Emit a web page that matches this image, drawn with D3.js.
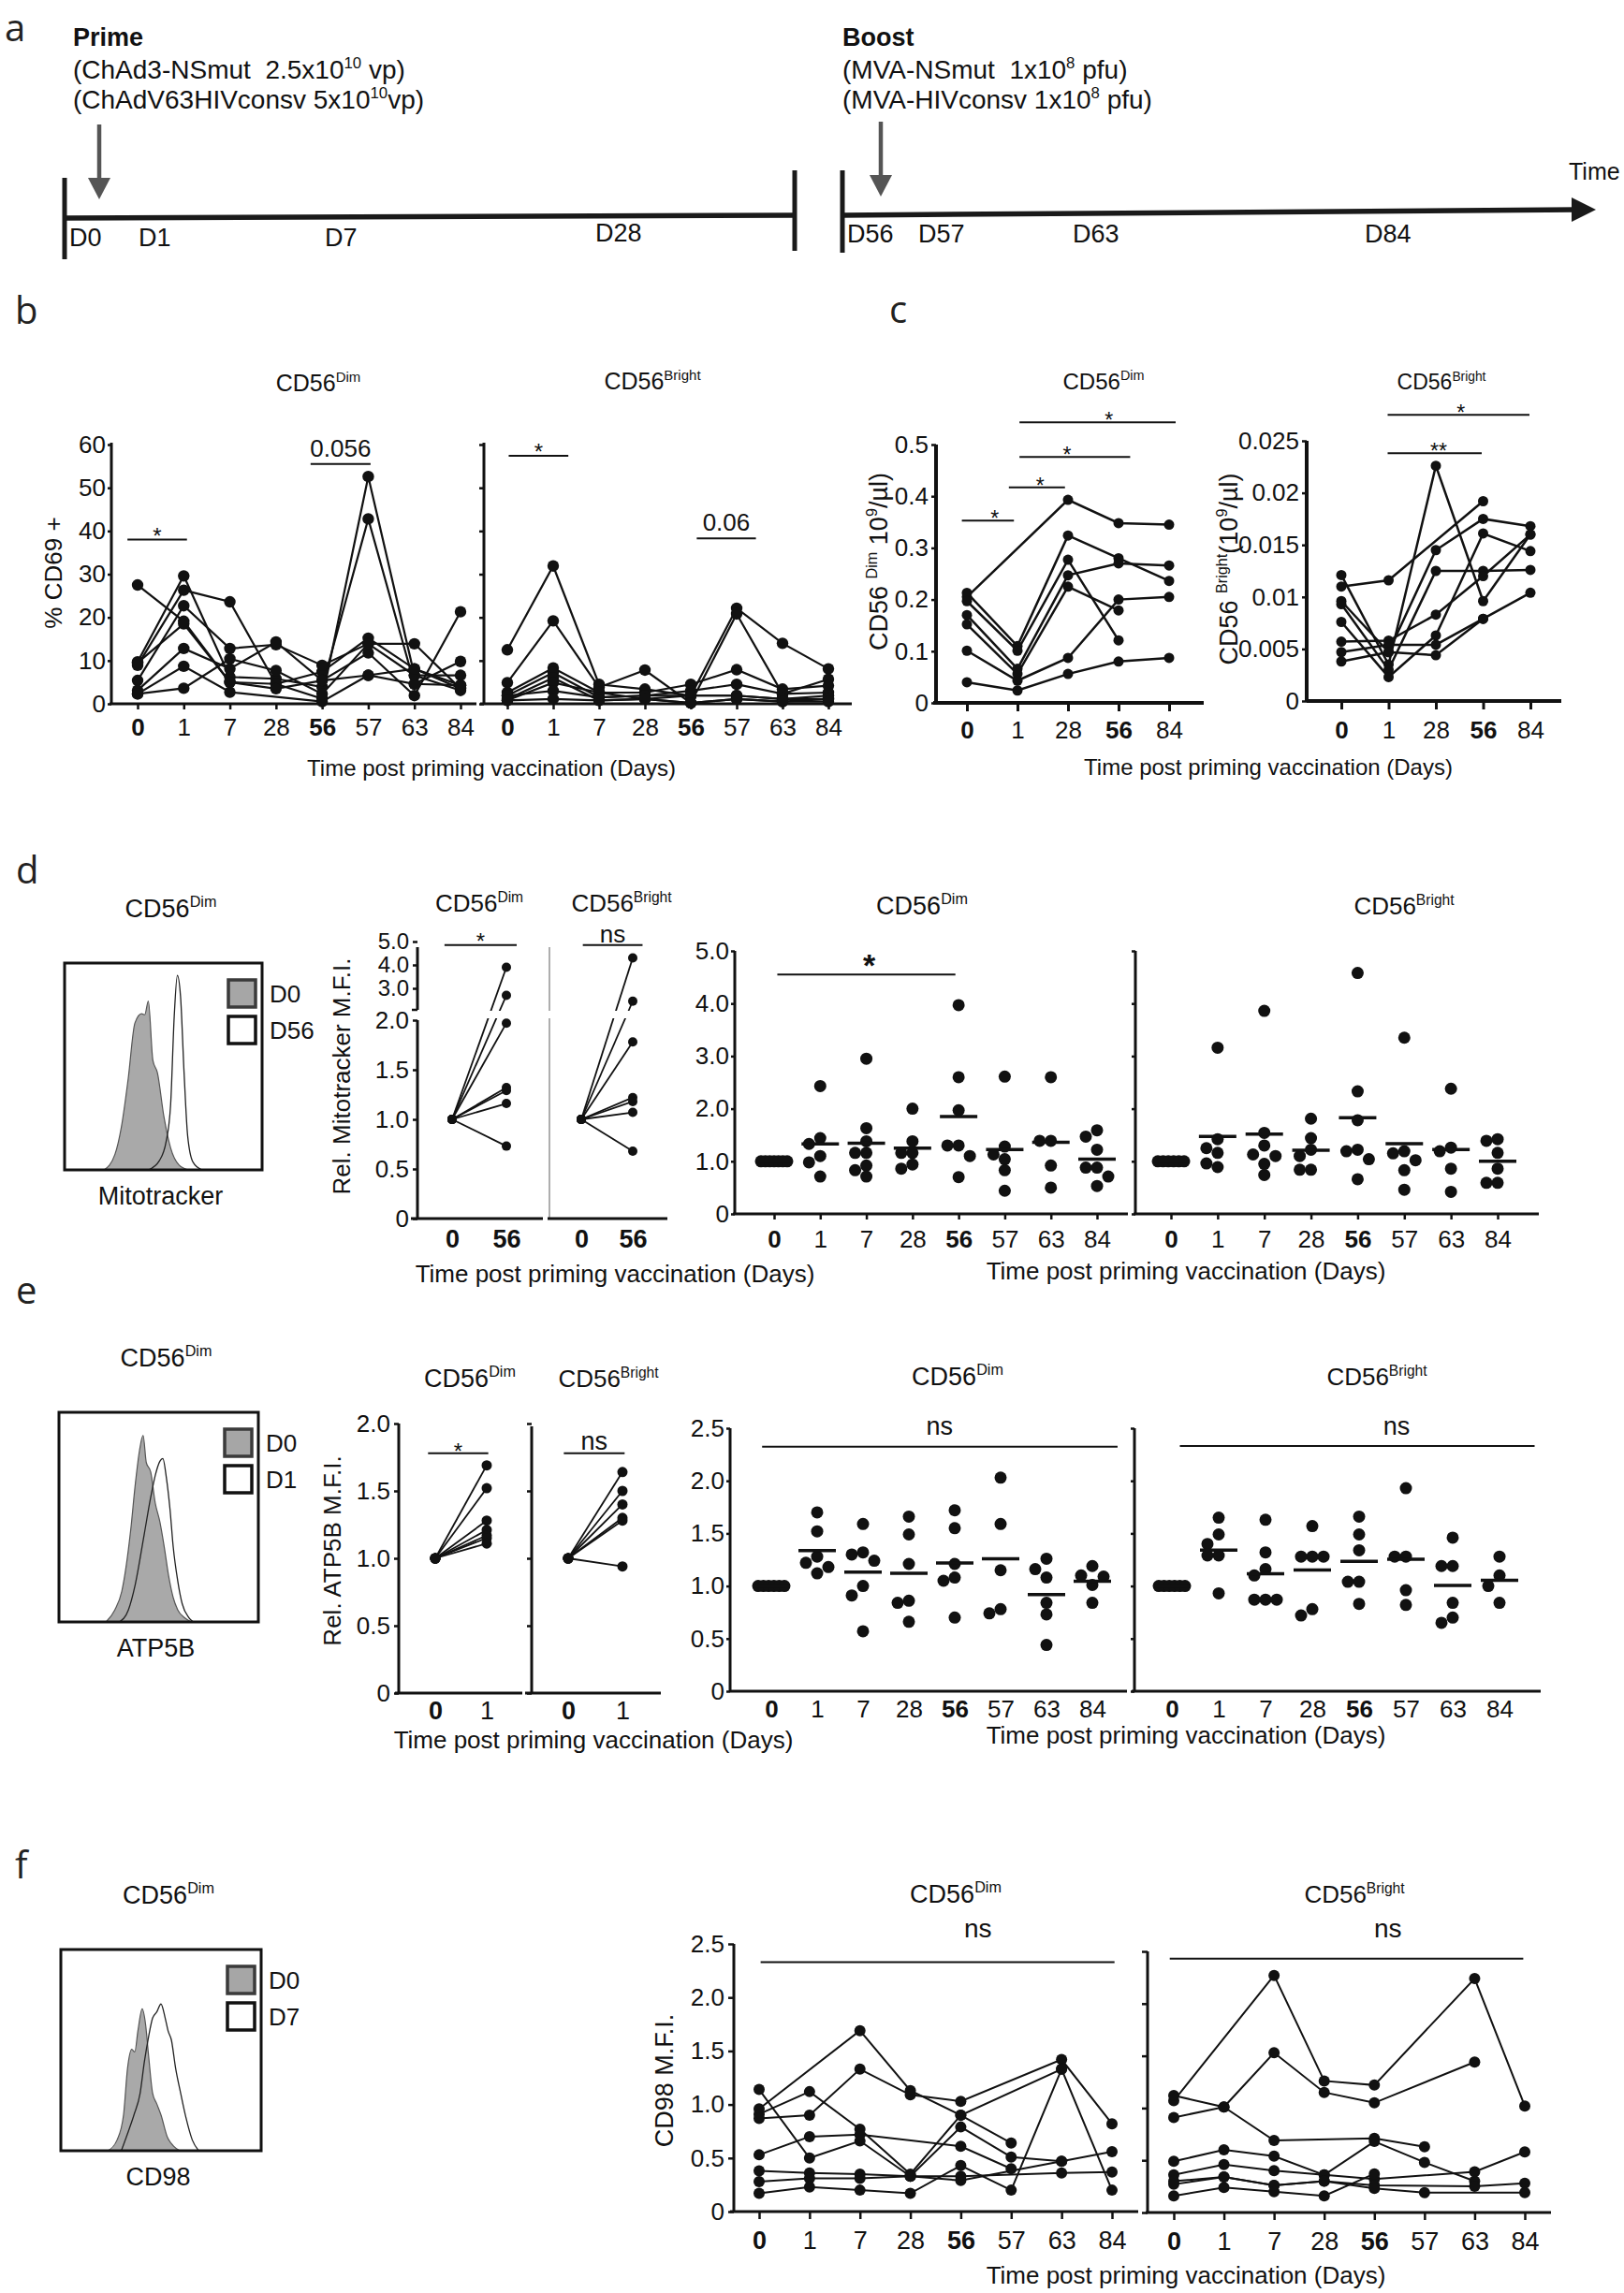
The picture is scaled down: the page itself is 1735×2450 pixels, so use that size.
<!DOCTYPE html>
<html>
<head>
<meta charset="utf-8">
<title>NK cell activation and metabolism after vaccination</title>
<script src="https://cdn.jsdelivr.net/npm/d3@7"></script>
<style>
  body { margin: 0; background: #fff; }
  svg { display: block; }
  text { white-space: pre; }
</style>
</head>
<body>
<svg id="figure" width="1735" height="2450"></svg>
<script>
// ---------- categories ----------
const timeDays = ["0", "1", "7", "28", "56", "57", "63", "84"];
const countDays = ["0", "1", "28", "56", "84"];
const mitoPairDays = ["0", "56"];
const atpPairDays = ["0", "1"];
const boldDays = ["0", "56"];

// ---------- a: schedule ----------
const primeDays = [0, 1, 7, 28];
const boostDays = [56, 57, 63, 84];

// ---------- b: % CD69+ (rows = donors, cols = timeDays) ----------
const cd69Dim = [
  [27.5, 19.1, 5.0, 4.6, 1.2, 52.6, 6.6, 3.1],
  [9.7, 29.6, 6.2, 5.8, 3.9, 42.8, 4.6, 4.3],
  [8.9, 26.3, 23.6, 4.6, 7.4, 15.2, 8.1, 3.5],
  [5.4, 22.7, 12.8, 13.7, 8.9, 13.9, 13.9, 3.5],
  [3.1, 12.8, 8.1, 14.3, 5.4, 11.8, 1.9, 21.3],
  [2.3, 8.7, 2.7, null, 0.5, 6.6, 4.6, 9.8],
  [2.3, 3.6, 10.4, 7.7, 2.3, 13.9, 6.6, 6.6],
  [9.5, 18.5, 5.0, 3.5, 5.4, 6.6, 8.1, 4.3]
];
const cd69Bright = [
  [12.5, 31.9, 4.5, 3.4, 1.9, 22.1, 14.0, 8.1],
  [4.9, 19.2, 3.8, 7.8, 0.2, 20.8, 2.3, 5.7],
  [2.6, 8.3, 2.6, 2.6, 4.5, 7.9, 3.4, 4.2],
  [1.9, 7.2, 1.5, 1.9, 3.0, 4.5, 2.3, 2.6],
  [1.1, 6.0, 0.8, 1.1, 1.9, 1.9, 1.1, 1.9],
  [0.8, 4.9, 2.6, 1.1, 0.2, 1.1, 0.5, 1.1],
  [1.9, 3.0, 1.5, 1.9, 1.9, 1.9, 1.1, 1.1],
  [0.8, 1.1, 0.8, 1.1, 0.2, 1.1, 0.5, 0.5]
];

// ---------- c: counts, 10^9/ul (cols = countDays) ----------
const countDim = [
  [0.205, null, 0.393, 0.348, 0.345],
  [0.213, 0.110, 0.324, 0.280, 0.236],
  [0.197, 0.101, 0.277, 0.121, null],
  [0.170, 0.066, 0.247, 0.270, 0.266],
  [0.152, 0.056, 0.225, 0.179, null],
  [0.101, 0.043, 0.087, 0.200, 0.205],
  [0.040, 0.024, 0.056, 0.080, 0.087]
];
const countBright = [
  [0.0110, 0.0116, null, 0.0192, null],
  [0.0121, 0.0035, 0.0226, 0.0096, 0.0160],
  [0.0096, 0.0047, 0.0145, 0.0175, 0.0168],
  [0.0093, 0.0030, 0.0125, 0.0125, 0.0126],
  [0.0076, 0.0023, 0.0063, 0.0161, 0.0144],
  [0.0057, 0.0058, 0.0083, 0.0120, 0.0160],
  [0.0047, 0.0054, 0.0054, 0.0079, 0.0104],
  [0.0038, 0.0047, 0.0044, 0.0079, null]
];

// ---------- d: Mitotracker ----------
const mitoPairDimD0 = [1, 1, 1, 1, 1, 1, 1];
const mitoPairDimD56 = [3.9, 2.7, 1.97, 1.32, 1.29, 1.16, 0.73];
const mitoPairBrightD0 = [1, 1, 1, 1, 1, 1, 1];
const mitoPairBrightD56 = [4.3, 2.45, 1.78, 1.22, 1.18, 1.07, 0.68];
const mitoDim = [
  [1, 1, 1, 1, 1, 1, 1],
  [2.43, 1.44, 1.33, 1.10, 0.98, 0.71],
  [2.95, 1.63, 1.38, 1.16, 1.16, 0.92, 0.83, 0.71],
  [2.0, 1.38, 1.16, 1.16, 0.94, 0.86],
  [3.97, 2.6, 1.97, 1.30, 1.30, 1.10, 0.70],
  [2.61, 1.28, 1.13, 1.04, 0.83, 0.44],
  [2.6, 1.39, 1.39, 0.92, 0.50],
  [1.59, 1.47, 1.22, 0.88, 0.88, 0.71, 0.53]
];
const mitoBright = [
  [1, 1, 1, 1, 1, 1],
  [3.16, 1.42, 1.25, 1.16, 0.96, 0.89],
  [3.86, 1.54, 1.30, 1.13, 1.10, 0.95, 0.74],
  [1.81, 1.44, 1.22, 1.10, 0.84, 0.84],
  [4.58, 2.33, 1.78, 1.22, 1.19, 1.04, 0.66],
  [3.35, 1.19, 1.15, 1.02, 0.83, 0.46],
  [2.38, 1.26, 1.19, 0.86, 0.42],
  [1.42, 1.39, 1.16, 0.86, 0.59, 0.59]
];
// histogram outlines: [intensity %, count % of box]
const mitoHistD0 = [[20, 0], [25.5, 7.5], [28.8, 21], [32.2, 44], [35.6, 71], [39, 75.5], [40.6, 75], [42.4, 81.6], [44.7, 53], [47, 47], [50.3, 25.7], [53.7, 10.6], [58, 2.3], [62.7, 0]];
const mitoHistD56 = [[42.4, 0], [48, 4.5], [51.4, 13.6], [53.7, 31.7], [55.5, 74], [57.1, 94], [58.7, 84], [60.5, 47], [62.3, 16.6], [65, 3.8], [69.5, 0]];

// ---------- e: ATP5B ----------
const atpPairDimD0 = [1, 1, 1, 1, 1, 1, 1];
const atpPairDimD1 = [1.69, 1.52, 1.28, 1.21, 1.17, 1.15, 1.11];
const atpPairBrightD0 = [1, 1, 1, 1, 1, 1];
const atpPairBrightD1 = [1.64, 1.50, 1.40, 1.30, 1.28, 0.94];
const atpDim = [
  [1, 1, 1, 1, 1, 1],
  [1.70, 1.52, 1.28, 1.22, 1.18, 1.12],
  [1.59, 1.32, 1.30, 1.24, 1.0, 0.91, 0.57],
  [1.66, 1.49, 1.21, 0.86, 0.84, 0.66],
  [1.72, 1.55, 1.21, 1.08, 1.05, 0.70],
  [2.03, 1.59, 1.15, 0.78, 0.74],
  [1.26, 1.16, 1.08, 0.84, 0.73, 0.44],
  [1.19, 1.10, 1.09, 1.01, 0.84]
];
const atpBright = [
  [1, 1, 1, 1, 1, 1],
  [1.65, 1.49, 1.40, 1.29, 1.29, 0.93],
  [1.63, 1.32, 1.16, 1.10, 0.87, 0.87, 0.87],
  [1.57, 1.28, 1.28, 1.28, 0.78, 0.72],
  [1.66, 1.49, 1.34, 1.04, 1.04, 0.83],
  [1.93, 1.28, 1.28, 0.96, 0.82],
  [1.46, 1.19, 1.19, 0.84, 0.70, 0.65],
  [1.28, 1.10, 1.0, 0.84]
];
const atpHistD0 = [[23.6, 0], [28, 5.7], [31.5, 14.6], [36, 44], [38.2, 65], [40.4, 81.8], [42.2, 89], [43.8, 76], [46, 71.6], [48.3, 56.7], [50.6, 47.8], [52.8, 35.8], [55, 22], [57.3, 11.6], [59.6, 5.7], [63, 2], [66.3, 0]];
const atpHistD1 = [[30.3, 0], [34.8, 5.7], [38.2, 17.6], [42.7, 41.5], [46, 59.4], [48.3, 69.9], [50.6, 76.6], [52.1, 78], [53.9, 68.6], [55.7, 53.7], [57.3, 35.8], [59.6, 19.4], [61.8, 8.7], [65.2, 2], [67.4, 0]];

// ---------- f: CD98 (cols = timeDays) ----------
const cd98Dim = [
  [1.14, 0.50, 0.66, 0.33, 0.79, 0.51, 0.47, 0.56],
  [0.96, null, 1.69, 1.13, 0.90, 0.64, null, null],
  [0.91, 1.12, 0.77, 0.35, 0.90, null, 1.33, 0.20],
  [0.87, 0.90, 1.33, 1.09, 1.03, null, 1.42, 0.82],
  [0.53, 0.70, 0.72, null, 0.61, 0.40, null, null],
  [0.38, 0.36, 0.35, 0.33, 0.33, null, 0.36, 0.37],
  [0.28, 0.31, 0.31, 0.33, 0.29, null, 0.47, null],
  [0.17, 0.23, 0.20, 0.17, 0.43, 0.20, 1.33, null]
];
const cd98Bright = [
  [1.07, null, 2.27, 1.26, 1.22, null, 2.24, 1.02],
  [1.12, 1.01, 1.53, 1.15, 1.05, null, 1.44, null],
  [0.91, 1.01, 0.69, null, 0.71, 0.63, null, null],
  [0.49, 0.60, 0.54, 0.36, 0.68, 0.48, 0.30, null],
  [0.36, 0.46, 0.40, 0.36, 0.32, null, 0.39, 0.58],
  [0.30, 0.34, 0.26, 0.30, 0.26, null, 0.25, 0.28],
  [0.27, 0.34, 0.26, 0.30, 0.23, 0.19, null, 0.19],
  [0.16, 0.24, 0.20, 0.16, 0.37, null, null, null]
];
const cd98HistD0 = [[23.5, 0], [28.1, 5.4], [31.3, 17.8], [33.3, 41], [35.4, 50.4], [36.9, 49.1], [38.5, 59.7], [40.6, 70.5], [42.3, 62.8], [43.8, 47.3], [45.8, 28.7], [47.9, 23.3], [50, 17.8], [53.1, 7], [56.3, 2.3], [59.4, 0]];
const cd98HistD7 = [[30.2, 0], [33.3, 8.5], [36.5, 17.8], [39.6, 28.7], [41.7, 44.2], [43.8, 56.6], [45.8, 65.9], [47.9, 69], [50, 72.9], [52.1, 65.9], [53.5, 59.7], [55.2, 55], [57.3, 41], [59.8, 28.7], [62.5, 16.3], [65.6, 5.4], [68.8, 0]];

// ---------- significance annotations (category index / data units) ----------
const bSigDim = [{ from: -0.22, to: 1.07, at: 38, label: "*" }, { from: 3.75, to: 5.05, at: 55.5, label: "0.056" }];
const bSigBright = [{ from: 0.03, to: 1.33, at: 57.4, label: "*" }, { from: 4.13, to: 5.42, at: 38.3, label: "0.06" }];
const cSigDim = [
  { from: -0.1, to: 0.93, at: 0.353, label: "*", labelAt: 0.55 },
  { from: 0.83, to: 1.94, at: 0.417, label: "*", labelAt: 1.45 },
  { from: 1.04, to: 3.23, at: 0.476, label: "*", labelAt: 1.98 },
  { from: 1.04, to: 4.13, at: 0.543, label: "*", labelAt: 2.81 }
];
const cSigBright = [{ from: 0.98, to: 2.97, at: 0.0238, label: "**", labelAt: 2.06 }, { from: 0.98, to: 3.98, at: 0.0275, label: "*", labelAt: 2.53 }];
const mitoPairSigDim = [{ from: -0.14, to: 1.19, at: 4.85, label: "*" }];
const mitoPairSigBright = [{ from: 0.03, to: 1.19, at: 4.85, label: "ns" }];
const mitoSigDim = [{ from: 0.07, to: 3.93, at: 4.55, label: "*", labelAt: 2.06 }];
const atpPairSigDim = [{ from: -0.14, to: 1.03, at: 1.78, label: "*" }];
const atpPairSigBright = [{ from: -0.08, to: 1.04, at: 1.78, label: "ns" }];
const atpSigDim = [{ from: -0.2, to: 7.55, at: 2.325, label: "ns", labelAt: 3.67, labelY: 2.44 }];
const atpSigBright = [{ from: 0.17, to: 7.75, at: 2.33, label: "ns", labelAt: 4.8, labelY: 2.44 }];
const cd98SigDim = [{ from: 0.03, to: 7.05, at: 2.33, label: "ns", labelAt: 4.34, labelY: 2.56 }];
const cd98SigBright = [{ from: -0.08, to: 6.97, at: 2.43, label: "ns", labelAt: 4.27, labelY: 2.63 }];

// ---------- helpers ----------
const svg = d3.select("#figure");
const FONT = "'Liberation Sans', Arial, Helvetica, sans-serif";
const LETTER = "'Open Sans', 'Noto Sans', sans-serif";
const INK = "#111";

function rich(x, y, parts, size, o = {}) {
  const t = svg.append("text")
    .attr("x", x).attr("y", y)
    .attr("font-family", o.font || FONT)
    .attr("font-size", size)
    .attr("font-weight", o.bold ? "bold" : null)
    .attr("text-anchor", o.anchor || "middle")
    .attr("fill", o.color || INK);
  if (o.rotate) t.attr("transform", `rotate(-90 ${x} ${y})`);
  let raised = false;
  parts.forEach((p) => {
    const sup = Array.isArray(p);
    const span = t.append("tspan").text(sup ? p[0] : p);
    if (sup) {
      span.attr("font-size", size * 0.6);
      if (!raised) span.attr("dy", -size * 0.4);
      raised = true;
    } else if (raised) {
      span.attr("dy", size * 0.4);
      raised = false;
    }
  });
  return t;
}
const text = (x, y, s, size, o) => rich(x, y, [s], size, o);
const letter = (x, y, s) => text(x, y, s, 40, { font: LETTER, anchor: "start", color: "#222" });
const hline = (x1, x2, y, w, c) => svg.append("line").attr("x1", x1).attr("x2", x2).attr("y1", y).attr("y2", y).attr("stroke", c || INK).attr("stroke-width", w);
const vline = (x, y1, y2, w, c) => svg.append("line").attr("x1", x).attr("x2", x).attr("y1", y1).attr("y2", y2).attr("stroke", c || INK).attr("stroke-width", w);

function yAxis(scale, x, o = {}) {
  const r = scale.range();
  vline(x, o.top ?? d3.min(r), o.bottom ?? d3.max(r), o.w || 3, o.color);
  if (!o.ticks) return;
  const ax = d3.axisLeft(scale).tickValues(o.ticks).tickSize(o.tick ?? 5).tickPadding(o.pad ?? 3)
    .tickSizeOuter(0).tickFormat(o.fmt || (() => ""));
  const g = svg.append("g").attr("transform", `translate(${x},0)`).call(ax)
    .attr("font-family", FONT).attr("font-size", o.fs || 25);
  g.select(".domain").remove();
  g.selectAll(".tick line").attr("stroke", INK).attr("stroke-width", o.tw || 2.5);
  g.selectAll(".tick text").attr("fill", INK);
}

function xAxis(scale, y, x0, x1, o = {}) {
  hline(x0, x1, y, o.w || 3);
  const fs = o.fs || 26, tick = o.tick ?? 7;
  const ax = d3.axisBottom(scale).tickSize(tick).tickSizeOuter(0).tickPadding(o.lab - tick - 0.71 * fs);
  const g = svg.append("g").attr("transform", `translate(0,${y})`).call(ax)
    .attr("font-family", FONT).attr("font-size", fs);
  g.select(".domain").remove();
  g.selectAll(".tick line").attr("stroke", INK).attr("stroke-width", o.tw || 2.5);
  g.selectAll(".tick text").attr("fill", INK)
    .attr("font-weight", (d) => (boldDays.includes(d) ? "bold" : null));
}

function sigBars(xs, ys, list, o = {}) {
  const x0 = xs(xs.domain()[0]), step = xs.step();
  list.forEach((s) => {
    const xa = x0 + s.from * step, xb = x0 + s.to * step, y = ys(s.at);
    hline(xa, xb, y, 2);
    const lx = s.labelAt != null ? x0 + s.labelAt * step : (xa + xb) / 2;
    const star = s.label.includes("*");
    const ly = s.labelY != null ? ys(s.labelY) : star ? y + (o.starDy ?? 5) : y - (o.gap ?? 8);
    text(lx, ly, s.label, star ? o.starFs || 24 : o.fs || 24, { bold: star && o.bold });
  });
}

function drawSeries(xs, ys, rows, cats, r, w) {
  const line = d3.line().x((d) => xs(d.c)).y((d) => ys(d.v));
  const g = svg.append("g");
  const rowsPts = rows.map((row) => row.map((v, i) => ({ c: cats[i], v })).filter((d) => d.v != null));
  rowsPts.forEach((pts) => g.append("path").attr("d", line(pts)).attr("fill", "none")
    .attr("stroke", INK).attr("stroke-width", w || 2));
  g.selectAll("circle").data(rowsPts.flat()).join("circle")
    .attr("cx", (d) => xs(d.c)).attr("cy", (d) => ys(d.v)).attr("r", r).attr("fill", INK);
}

// simple beeswarm so equal values sit side by side like the original
function swarm(vals, ys, r) {
  const pts = vals.map((v) => ({ v, y: ys(v), dx: 0 }));
  if (d3.min(vals) === d3.max(vals)) {
    const n = pts.length;
    pts.forEach((p, k) => (p.dx = n > 1 ? (k / (n - 1) - 0.5) * 28 : 0));
    return pts;
  }
  const step = 12, placed = [];
  pts.slice().sort((a, b) => b.v - a.v).forEach((p) => {
    let best = 0, bestHit = Infinity;
    for (const c of [0, -step, step, -2 * step, 2 * step]) {
      const hit = d3.max(placed, (q) => Math.max(0, 2 * r - 1.5 - Math.hypot(q.dx - c, q.y - p.y))) || 0;
      if (hit < bestHit - 0.01) { bestHit = hit; best = c; }
      if (hit === 0) break;
    }
    p.dx = best;
    placed.push(p);
  });
  return pts;
}

function drawScatter(xs, ys, groups, r) {
  const g = svg.append("g");
  groups.forEach((vals, i) => {
    const cx = xs(timeDays[i]);
    g.append("g").selectAll("circle").data(swarm(vals, ys, r)).join("circle")
      .attr("cx", (d) => cx + d.dx).attr("cy", (d) => d.y).attr("r", r).attr("fill", INK);
    const m = ys(d3.mean(vals));
    g.append("line").attr("x1", cx - 20).attr("x2", cx + 20).attr("y1", m).attr("y2", m)
      .attr("stroke", INK).attr("stroke-width", 3.5);
  });
}

function pairedLines(xs, ys, before, after) {
  const [c0, c1] = xs.domain();
  after.forEach((v, i) => svg.append("line")
    .attr("x1", xs(c0)).attr("y1", ys(before[i])).attr("x2", xs(c1)).attr("y2", ys(v))
    .attr("stroke", INK).attr("stroke-width", 1.8));
}
function pairedDots(xs, ys, before, after, r) {
  const [c0, c1] = xs.domain();
  const pts = before.map((v) => [xs(c0), ys(v)]).concat(after.map((v) => [xs(c1), ys(v)]));
  svg.append("g").selectAll("circle").data(pts).join("circle")
    .attr("cx", (d) => d[0]).attr("cy", (d) => d[1]).attr("r", r).attr("fill", INK);
}

function histogram(box, base, later, labels, marker) {
  const hx = d3.scaleLinear().domain([0, 100]).range([box.x0, box.x1]);
  const hy = d3.scaleLinear().domain([0, 100]).range([box.y1, box.y0]);
  const area = d3.area().x((d) => hx(d[0])).y0(box.y1).y1((d) => hy(d[1])).curve(d3.curveMonotoneX);
  const line = d3.line().x((d) => hx(d[0])).y((d) => hy(d[1])).curve(d3.curveMonotoneX);
  svg.append("path").attr("d", area(base)).attr("fill", "#a9a9a9").attr("stroke", "#555").attr("stroke-width", 1.2);
  svg.append("path").attr("d", line(later)).attr("fill", "none").attr("stroke", "#222").attr("stroke-width", 1.3);
  svg.append("rect").attr("x", box.x0).attr("y", box.y0).attr("width", box.x1 - box.x0).attr("height", box.y1 - box.y0)
    .attr("fill", "none").attr("stroke", INK).attr("stroke-width", 3);
  const sx = box.x1 - 36, sy = box.y0 + 18;
  svg.append("rect").attr("x", sx).attr("y", sy).attr("width", 29).attr("height", 29)
    .attr("fill", "#a6a6a6").attr("stroke", "#3a3a3a").attr("stroke-width", 3.5);
  svg.append("rect").attr("x", sx).attr("y", sy + 39).attr("width", 29).attr("height", 29)
    .attr("fill", "#fff").attr("stroke", INK).attr("stroke-width", 3.5);
  text(box.x1 + 8, sy + 24, labels[0], 26, { anchor: "start" });
  text(box.x1 + 8, sy + 63, labels[1], 26, { anchor: "start" });
  rich((box.x0 + box.x1) / 2 + 8, box.y0 - 49, ["CD56", ["Dim"]], 27);
  text((box.x0 + box.x1) / 2 - 3, box.y1 + 37, marker, 27);
}

const fmt1 = (d) => (d === 0 ? "0" : d3.format(".1f")(d));

// ================= a =================
letter(5, 44, "a");
rich(78, 49, ["Prime"], 27, { anchor: "start", bold: true });
rich(78, 84, ["(ChAd3-NSmut  2.5x10", ["10"], " vp)"], 28, { anchor: "start" });
rich(78, 116, ["(ChAdV63HIVconsv 5x10", ["10"], "vp)"], 28, { anchor: "start" });
rich(900, 49, ["Boost"], 27, { anchor: "start", bold: true });
rich(900, 84, ["(MVA-NSmut  1x10", ["8"], " pfu)"], 28, { anchor: "start" });
rich(900, 116, ["(MVA-HIVconsv 1x10", ["8"], " pfu)"], 28, { anchor: "start" });

const primeX = d3.scaleLinear().domain(primeDays).range([74, 148, 347, 636]);
const boostX = d3.scaleLinear().domain(boostDays).range([905, 981, 1146, 1458]);
vline(69, 190, 277, 5, "#1a1a1a");
svg.append("line").attr("x1", 69).attr("y1", 233).attr("x2", 849).attr("y2", 230).attr("stroke", "#1a1a1a").attr("stroke-width", 5.5);
vline(849, 182, 268, 5, "#1a1a1a");
vline(900, 182, 270, 5, "#1a1a1a");
svg.append("line").attr("x1", 900).attr("y1", 230).attr("x2", 1684).attr("y2", 224).attr("stroke", "#1a1a1a").attr("stroke-width", 5.5);
svg.append("path").attr("d", "M1679,211 L1705,224 L1679,237 Z").attr("fill", "#1a1a1a");
[[106, 133, 213], [941, 130, 210]].forEach(([x, y0, y1]) => {
  vline(x, y0, y1 - 20, 4.5, "#555");
  svg.append("path").attr("d", `M${x - 12},${y1 - 23} L${x + 12},${y1 - 23} L${x},${y1} Z`).attr("fill", "#555");
});
primeDays.forEach((d) => text(primeX(d), d === 28 ? 258 : 263, "D" + d, 27, { anchor: "start" }));
boostDays.forEach((d) => text(boostX(d), 259, "D" + d, 27, { anchor: "start" }));
text(1676, 192, "Time", 25, { anchor: "start" });

// ================= b =================
letter(16, 346, "b");
const bY = d3.scaleLinear().domain([0, 60]).range([752, 475]);
const bXDim = d3.scalePoint().domain(timeDays).range([147, 492]);
const bXBright = d3.scalePoint().domain(timeDays).range([542, 885]);
yAxis(bY, 119, { top: 473, ticks: d3.range(0, 61, 10), fmt: d3.format("d"), fs: 26, tick: 4, pad: 2 });
xAxis(bXDim, 752, 117, 509, { lab: 34, tick: 6, fs: 26 });
yAxis(bY, 517, { top: 473, ticks: d3.range(0, 61, 10), tick: 5 });
xAxis(bXBright, 752, 513, 910, { lab: 34, tick: 6, fs: 26 });
drawSeries(bXDim, bY, cd69Dim, timeDays, 6.2, 2.2);
drawSeries(bXBright, bY, cd69Bright, timeDays, 6.2, 2.2);
sigBars(bXDim, bY, bSigDim, { starDy: 4, fs: 26 });
sigBars(bXBright, bY, bSigBright, { starDy: 4, fs: 26 });
rich(340, 418, ["CD56", ["Dim"]], 25);
rich(697, 416, ["CD56", ["Bright"]], 25);
text(66, 612, "% CD69 +", 26, { rotate: true });
text(525, 829, "Time post priming vaccination (Days)", 24);

// ================= c =================
letter(950, 345, "c");
const cYDim = d3.scaleLinear().domain([0, 0.5]).range([751, 475]);
const cXDim = d3.scalePoint().domain(countDays).range([1033, 1249]);
const cYBright = d3.scaleLinear().domain([0, 0.025]).range([749, 471]);
const cXBright = d3.scalePoint().domain(countDays).range([1433, 1635]);
const cTicksDim = [0, 0.1, 0.2, 0.3, 0.4, 0.5];
const cTicksBright = [0, 0.005, 0.01, 0.015, 0.02, 0.025];
yAxis(cYDim, 1000, { ticks: cTicksDim, fmt: (d) => (d === 0 ? "0" : String(d)), fs: 26, w: 4, tick: 5, pad: 3 });
xAxis(cXDim, 751, 997, 1286, { lab: 38, tick: 9, w: 4, tw: 3 });
yAxis(cYBright, 1396, { ticks: cTicksBright, fmt: (d) => (d === 0 ? "0" : String(d)), fs: 26, w: 4, tick: 5, pad: 3 });
xAxis(cXBright, 749, 1396, 1668, { lab: 40, tick: 9, w: 4, tw: 3 });
drawSeries(cXDim, cYDim, countDim, countDays, 5.5, 2.5);
drawSeries(cXBright, cYBright, countBright, countDays, 5.5, 2.5);
sigBars(cXDim, cYDim, cSigDim, { starDy: 6, starFs: 23 });
sigBars(cXBright, cYBright, cSigBright, { starDy: 6, starFs: 23 });
rich(1179, 416, ["CD56", ["Dim"]], 24);
rich(1540, 416, ["CD56", ["Bright"]], 23);
rich(948, 600, ["CD56 ", ["Dim"], " 10", ["9"], "/\u00b5l)"], 27, { rotate: true });
rich(1322, 608, ["CD56 ", ["Bright"], "(10", ["9"], "/\u00b5l)"], 27, { rotate: true });
text(1355, 828, "Time post priming vaccination (Days)", 24);

// ================= d =================
letter(17, 944, "d");
histogram({ x0: 69, y0: 1029, x1: 280, y1: 1250 }, mitoHistD0, mitoHistD56, ["D0", "D56"], "Mitotracker");

const mitoLow = d3.scaleLinear().domain([0, 2]).range([1302, 1090]);
const mitoHigh = d3.scaleLinear().domain([2, 5]).range([1081, 1006]);
const mitoPairY = (v) => (v <= 2 ? mitoLow(v) : mitoHigh(v));
const mitoPairX = d3.scalePoint().domain(mitoPairDays).range([483, 541]);
const mitoPairXB = d3.scalePoint().domain(mitoPairDays).range([621, 676]);
pairedLines(mitoPairX, mitoPairY, mitoPairDimD0, mitoPairDimD56);
pairedLines(mitoPairXB, mitoPairY, mitoPairBrightD0, mitoPairBrightD56);
svg.append("rect").attr("x", 430).attr("y", 1080).attr("width", 290).attr("height", 8).attr("fill", "#fff");
yAxis(mitoLow, 446, { ticks: [0, 0.5, 1, 1.5, 2], fmt: fmt1, fs: 26, tick: 5, pad: 4 });
yAxis(mitoHigh, 446, { top: 1012, bottom: 1079, ticks: [3, 4, 5], fmt: fmt1, fs: 24, tick: 5, pad: 4 });
hline(440, 446, 1079, 2.5);
vline(587, 1012, 1080, 1.2, "#777");
vline(587, 1088, 1302, 1.2, "#777");
xAxis(mitoPairX, 1302, 439, 580, { lab: 31, tick: 0, fs: 27 });
xAxis(mitoPairXB, 1302, 585, 713, { lab: 31, tick: 0, fs: 27 });
pairedDots(mitoPairX, mitoPairY, mitoPairDimD0, mitoPairDimD56, 5);
pairedDots(mitoPairXB, mitoPairY, mitoPairBrightD0, mitoPairBrightD56, 5);
sigBars(mitoPairX, mitoPairY, mitoPairSigDim, { starDy: 4, starFs: 24 });
sigBars(mitoPairXB, mitoPairY, mitoPairSigBright, { fs: 26, gap: 3 });
rich(512, 974, ["CD56", ["Dim"]], 26);
rich(664, 974, ["CD56", ["Bright"]], 26);
text(374, 1150, "Rel. Mitotracker M.F.I.", 26, { rotate: true });
text(657, 1370, "Time post priming vaccination (Days)", 26);

const mitoY = d3.scaleLinear().domain([0, 5]).range([1297, 1016]);
const mitoXDim = d3.scalePoint().domain(timeDays).range([827, 1172]);
const mitoXBright = d3.scalePoint().domain(timeDays).range([1251, 1600]);
yAxis(mitoY, 785, { ticks: [0, 1, 2, 3, 4, 5], fmt: fmt1, fs: 26, tick: 4, pad: 2 });
xAxis(mitoXDim, 1297, 783, 1205, { lab: 36, tick: 6 });
yAxis(mitoY, 1213, { ticks: [0, 1, 2, 3, 4, 5], tick: 4 });
xAxis(mitoXBright, 1297, 1211, 1644, { lab: 36, tick: 6 });
drawScatter(mitoXDim, mitoY, mitoDim, 6.5);
drawScatter(mitoXBright, mitoY, mitoBright, 6.5);
sigBars(mitoXDim, mitoY, mitoSigDim, { starDy: 2, starFs: 34, bold: true });
rich(985, 977, ["CD56", ["Dim"]], 27);
rich(1500, 977, ["CD56", ["Bright"]], 26);
text(1267, 1367, "Time post priming vaccination (Days)", 26);

// ================= e =================
letter(17, 1393, "e");
histogram({ x0: 63, y0: 1509, x1: 276, y1: 1733 }, atpHistD0, atpHistD1, ["D0", "D1"], "ATP5B");

const atpPairY = d3.scaleLinear().domain([0, 2]).range([1809, 1521]);
const atpPairX = d3.scalePoint().domain(atpPairDays).range([465, 520]);
const atpPairXB = d3.scalePoint().domain(atpPairDays).range([607, 665]);
yAxis(atpPairY, 426, { ticks: [0, 0.5, 1, 1.5, 2], fmt: fmt1, fs: 26, tick: 5, pad: 4 });
xAxis(atpPairX, 1809, 422, 558, { lab: 28, tick: 0, fs: 27 });
yAxis(atpPairY, 568, { top: 1524, ticks: [0, 0.5, 1, 1.5, 2], tick: 5 });
xAxis(atpPairXB, 1809, 561, 706, { lab: 28, tick: 0, fs: 27 });
pairedLines(atpPairX, atpPairY, atpPairDimD0, atpPairDimD1);
pairedLines(atpPairXB, atpPairY, atpPairBrightD0, atpPairBrightD1);
pairedDots(atpPairX, atpPairY, atpPairDimD0, atpPairDimD1, 5.5);
pairedDots(atpPairXB, atpPairY, atpPairBrightD0, atpPairBrightD1, 5.5);
sigBars(atpPairX, atpPairY, atpPairSigDim, { starDy: 6, starFs: 24 });
sigBars(atpPairXB, atpPairY, atpPairSigBright, { fs: 27, gap: 4 });
rich(502, 1482, ["CD56", ["Dim"]], 27);
rich(650, 1482, ["CD56", ["Bright"]], 26);
text(364, 1657, "Rel. ATP5B M.F.I.", 26, { rotate: true });
text(634, 1868, "Time post priming vaccination (Days)", 26);

const atpY = d3.scaleLinear().domain([0, 2.5]).range([1807, 1526]);
const atpXDim = d3.scalePoint().domain(timeDays).range([824, 1167]);
const atpXBright = d3.scalePoint().domain(timeDays).range([1252, 1602]);
yAxis(atpY, 780, { ticks: [0, 0.5, 1, 1.5, 2, 2.5], fmt: fmt1, fs: 26, tick: 4, pad: 2 });
xAxis(atpXDim, 1807, 780, 1204, { lab: 28, tick: 0 });
yAxis(atpY, 1212, { ticks: [0, 0.5, 1, 1.5, 2, 2.5], tick: 4 });
xAxis(atpXBright, 1807, 1209, 1646, { lab: 28, tick: 0 });
drawScatter(atpXDim, atpY, atpDim, 6.5);
drawScatter(atpXBright, atpY, atpBright, 6.5);
sigBars(atpXDim, atpY, atpSigDim, { fs: 27 });
sigBars(atpXBright, atpY, atpSigBright, { fs: 27 });
rich(1023, 1480, ["CD56", ["Dim"]], 27);
rich(1471, 1480, ["CD56", ["Bright"]], 26);
text(1267, 1863, "Time post priming vaccination (Days)", 26);

// ================= f =================
letter(16, 2007, "f");
histogram({ x0: 65, y0: 2083, x1: 279, y1: 2298 }, cd98HistD0, cd98HistD7, ["D0", "D7"], "CD98");

const cd98YDim = d3.scaleLinear().domain([0, 2.5]).range([2363, 2077]);
const cd98YBright = d3.scaleLinear().domain([0, 2.5]).range([2364, 2085]);
const cd98XDim = d3.scalePoint().domain(timeDays).range([811, 1188]);
const cd98XBright = d3.scalePoint().domain(timeDays).range([1254, 1629]);
yAxis(cd98YDim, 784, { ticks: [0, 0.5, 1, 1.5, 2, 2.5], fmt: fmt1, fs: 26, tick: 6, pad: 4 });
xAxis(cd98XDim, 2363, 780, 1216, { lab: 40, tick: 8, fs: 27 });
yAxis(cd98YBright, 1226, { ticks: [0, 0.5, 1, 1.5, 2, 2.5], tick: 6 });
xAxis(cd98XBright, 2364, 1224, 1657, { lab: 40, tick: 8, fs: 27 });
drawSeries(cd98XDim, cd98YDim, cd98Dim, timeDays, 6, 2);
drawSeries(cd98XBright, cd98YBright, cd98Bright, timeDays, 6, 2);
sigBars(cd98XDim, cd98YDim, cd98SigDim, { fs: 28 });
sigBars(cd98XBright, cd98YBright, cd98SigBright, { fs: 28 });
rich(1021, 2033, ["CD56", ["Dim"]], 27);
rich(1447, 2033, ["CD56", ["Bright"]], 26);
text(719, 2223, "CD98 M.F.I.", 27, { rotate: true });
text(1267, 2440, "Time post priming vaccination (Days)", 26);
</script>
</body>
</html>
